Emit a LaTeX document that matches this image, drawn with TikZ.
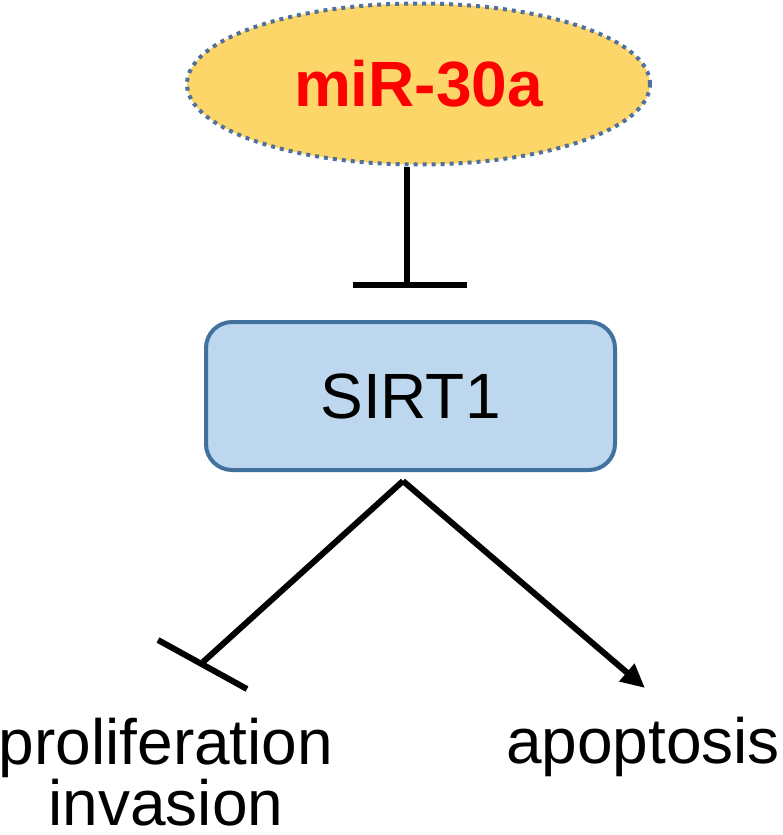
\documentclass[tikz,border=0pt]{standalone}
\usepackage{fontspec}
\setmainfont{Liberation Sans}
\usetikzlibrary{arrows.meta,shapes.geometric}
\definecolor{ellfill}{RGB}{253,214,106}
\definecolor{elldraw}{RGB}{80,112,158}
\definecolor{boxfill}{RGB}{189,215,238}
\definecolor{boxdraw}{RGB}{65,113,156}
\definecolor{mirred}{RGB}{255,0,0}
\tikzset{
  mirnode/.style={ellipse, fill=ellfill, draw=elldraw, line width=4pt,
    dash pattern=on 4pt off 5pt, minimum width=463pt, minimum height=161pt,
    inner sep=0pt, text=mirred, font=\fontsize{64}{70}\selectfont\bfseries},
  genebox/.style={rectangle, rounded corners=26pt, fill=boxfill, draw=boxdraw,
    line width=4pt, minimum width=409pt, minimum height=148pt, inner sep=0pt,
    font=\fontsize{64}{70}\selectfont},
  outtext/.style={inner sep=0pt, align=center, font=\fontsize{64}{58}\selectfont},
  conn/.style={line width=6pt, black},
  barline/.style={line width=6pt, black},
  actarrow/.style={line width=6pt, black, -{Triangle[length=24pt,width=22pt]}}
}
\begin{document}
\begin{tikzpicture}[x=1pt,y=-1pt]
  \useasboundingbox (0,0) rectangle (783,835);
  \node[outtext] (prolif) at (166,772) {proliferation\\invasion};
  \node[mirnode] (mir) at (418.5,84) {miR-30a};
  \node[genebox] (sirt) at (410.5,396) {SIRT1};
  \coordinate (tbar) at (407,285);
  \coordinate (tbarL) at (353,285);
  \coordinate (tbarR) at (467,285);
  \coordinate (apex) at (403,481);
  \coordinate (inhend) at (203,662);
  \coordinate (inhA) at (158,640);
  \coordinate (inhB) at (247,689);
  \coordinate (actend) at (645,688);
  \node[outtext, anchor=base] (apop) at (643,763) {apoptosis};
  \draw[conn] (tbar |- mir.south) -- (tbar);
  \draw[barline] (tbarL) -- (tbarR);
  \draw[conn] (apex) -- (inhend);
  \draw[barline] (inhA) -- (inhB);
  \draw[actarrow] (apex) -- (actend);
\end{tikzpicture}
\end{document}
